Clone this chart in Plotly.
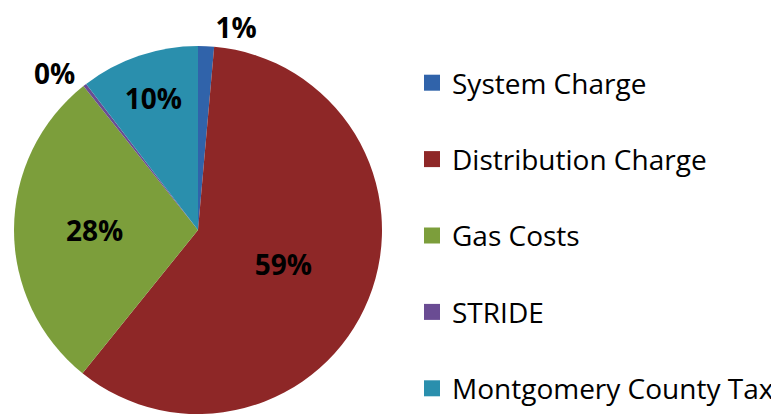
import plotly.graph_objects as go

categories = ["System Charge", "Distribution Charge", "Gas Costs", "STRIDE", "Montgomery County Tax"]
values = [1.4, 59.4, 28.5, 0.3, 10.4]
colors = ["#3063AA", "#8E2727", "#7C9E3B", "#6A4C93", "#2A8FAD"]
text_positions = ["outside", "inside", "inside", "outside", "inside"]

W, H = 779, 416
# page body adds an 8px offset; compensate
cx, cy, r = 190, 222, 184

fig = go.Figure()
fig.add_trace(go.Pie(
    labels=categories, values=values, sort=False, direction="clockwise", rotation=0,
    marker=dict(colors=colors, line=dict(width=0)),
    textinfo="percent", texttemplate="%{percent:.0%}",
    textposition=text_positions, insidetextorientation="horizontal",
    textfont=dict(family="Open Sans", size=28, color="black", weight="bold"),
    domain=dict(x=[(cx - r) / W, (cx + r) / W], y=[1 - (cy + r) / H, 1 - (cy - r) / H]),
    showlegend=False, hoverinfo="label+percent",
))

for i, (name, col) in enumerate(zip(categories, colors)):
    fig.add_trace(go.Scatter(
        x=[None], y=[None], mode="markers", name=name, legendgroup=name,
        marker=dict(symbol="square", size=17, color=col),
    ))

fig.update_layout(
    width=W, height=H,
    margin=dict(l=0, r=0, t=0, b=0, autoexpand=False),
    paper_bgcolor="white", plot_bgcolor="white",
    xaxis=dict(visible=False), yaxis=dict(visible=False),
    legend=dict(x=404 / W, y=1 - 50 / H, xanchor="left", yanchor="top",
                font=dict(family="Open Sans", size=28, color="black"),
                tracegroupgap=37, itemsizing="trace", bgcolor="rgba(0,0,0,0)"),
    showlegend=True,
)
fig.write_html("out.html")
